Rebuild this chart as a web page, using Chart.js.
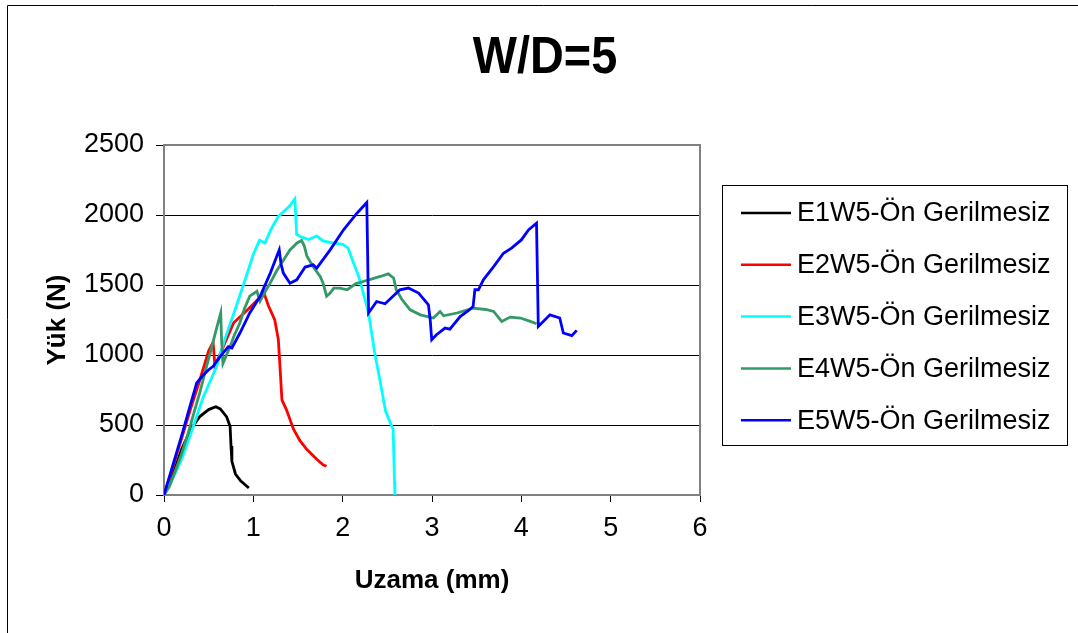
<!DOCTYPE html>
<html><head><meta charset="utf-8">
<script src="https://cdn.jsdelivr.net/npm/chart.js@4.4.1/dist/chart.umd.min.js"></script>
<style>html,body{margin:0;padding:0;background:#fff;}</style>
</head><body>
<canvas id="c" width="1078" height="633" style="display:block"></canvas>
<script>
const chartTitle = 'W/D=5';
const xTitle = 'Uzama (mm)';
const yTitle = 'Yük (N)';
const seriesNames = ['E1W5-Ön Gerilmesiz','E2W5-Ön Gerilmesiz','E3W5-Ön Gerilmesiz','E4W5-Ön Gerilmesiz','E5W5-Ön Gerilmesiz'];
const seriesColors = ['#000000','#FF0000','#00FFFF','#339966','#0000FF'];
const xTickValues = [0,1,2,3,4,5,6];
const yTickValues = [0,500,1000,1500,2000,2500];

// [Uzama (mm), Yük (N)]
const e1 = [[0,0],[0.1,150],[0.2,330],[0.3,470],[0.4,560],[0.5,610],[0.58,630],[0.63,615],[0.7,560],[0.74,490],[0.75,350],[0.76,240],[0.8,150],[0.86,100],[0.95,50]];
const e2 = [[0,0],[0.1,200],[0.2,410],[0.3,620],[0.4,820],[0.5,1030],[0.55,1090],[0.57,920],[0.65,1040],[0.78,1230],[0.93,1320],[1.04,1390],[1.12,1440],[1.17,1350],[1.24,1250],[1.28,1110],[1.3,900],[1.32,680],[1.37,610],[1.45,470],[1.52,390],[1.6,325],[1.71,255],[1.78,215],[1.82,205]];
const e3 = [[0,0],[0.1,120],[0.2,260],[0.29,420],[0.44,700],[0.59,920],[0.68,1110],[0.81,1350],[0.93,1580],[1.0,1720],[1.07,1820],[1.13,1800],[1.2,1900],[1.28,1990],[1.34,2025],[1.4,2060],[1.465,2115],[1.485,1860],[1.55,1840],[1.62,1825],[1.71,1850],[1.78,1815],[1.9,1800],[2.0,1790],[2.06,1765],[2.12,1660],[2.18,1560],[2.23,1445],[2.29,1300],[2.36,1010],[2.42,810],[2.48,600],[2.55,490],[2.565,470],[2.58,100],[2.585,0]];
const e4 = [[0,0],[0.06,60],[0.12,160],[0.2,300],[0.27,440],[0.35,620],[0.4,730],[0.46,880],[0.52,1020],[0.58,1170],[0.635,1300],[0.645,1100],[0.66,940],[0.7,1000],[0.74,1060],[0.78,1130],[0.85,1230],[0.9,1330],[0.96,1420],[1.04,1455],[1.075,1385],[1.13,1450],[1.19,1515],[1.26,1600],[1.34,1680],[1.41,1750],[1.49,1800],[1.54,1818],[1.57,1780],[1.6,1705],[1.67,1630],[1.75,1560],[1.78,1515],[1.82,1420],[1.86,1442],[1.9,1478],[1.97,1478],[2.05,1466],[2.15,1510],[2.23,1525],[2.31,1540],[2.42,1561],[2.51,1580],[2.57,1550],[2.6,1466],[2.66,1400],[2.755,1323],[2.87,1287],[3.016,1264],[3.09,1311],[3.13,1280],[3.28,1300],[3.46,1335],[3.6,1325],[3.69,1311],[3.78,1240],[3.875,1271],[3.99,1264],[4.1,1240],[4.17,1223]];
const e5 = [[0,0],[0.1,215],[0.2,430],[0.28,610],[0.366,800],[0.43,850],[0.5,895],[0.55,919],[0.63,990],[0.72,1060],[0.76,1050],[0.85,1157],[0.96,1300],[1.075,1418],[1.19,1585],[1.29,1751],[1.31,1650],[1.336,1585],[1.41,1513],[1.486,1537],[1.58,1628],[1.67,1644],[1.71,1620],[1.86,1751],[2.01,1894],[2.16,2013],[2.27,2089],[2.28,1700],[2.29,1300],[2.38,1382],[2.475,1366],[2.64,1466],[2.736,1478],[2.85,1442],[2.96,1359],[2.98,1250],[2.997,1109],[3.05,1145],[3.146,1192],[3.2,1185],[3.315,1275],[3.41,1318],[3.46,1347],[3.48,1466],[3.52,1466],[3.575,1537],[3.69,1632],[3.8,1727],[3.89,1763],[4.0,1822],[4.08,1894],[4.17,1941],[4.19,1204],[4.32,1287],[4.43,1264],[4.47,1157],[4.565,1138],[4.62,1176]];
const allSeries = [e1,e2,e3,e4,e5];

const FONT = "'Liberation Sans', Arial, sans-serif";

const framePlugin = {
  id:'frame',
  beforeDraw(chart){
    const ctx = chart.ctx;
    ctx.save();
    ctx.fillStyle='#fff'; ctx.fillRect(0,0,chart.width,chart.height);
    ctx.strokeStyle='#000'; ctx.lineWidth=1;
    ctx.beginPath(); ctx.moveTo(7.5,chart.height+2); ctx.lineTo(7.5,5.5); ctx.lineTo(chart.width+2,5.5); ctx.stroke();
    ctx.restore();
  },
  beforeDatasetsDraw(chart){
    const {ctx, chartArea:a} = chart;
    ctx.save();
    ctx.strokeStyle='#808080'; ctx.lineWidth=2;
    ctx.strokeRect(a.left, a.top, a.right-a.left, a.bottom-a.top);
    ctx.restore();
  },
  afterDraw(chart){
    const ctx = chart.ctx;
    ctx.save();
    ctx.fillStyle='#000';
    ctx.font = "bold 52px " + FONT;
    ctx.textAlign='center'; ctx.textBaseline='middle';
    ctx.save();
    ctx.translate(545, 59);
    ctx.scale(0.9, 1);
    ctx.fillText(chartTitle, 0, 0);
    ctx.restore();
    const bx=722.5, by=185.5, bw=345, bh=260;
    ctx.strokeStyle='#000'; ctx.lineWidth=1;
    ctx.strokeRect(bx,by,bw,bh);
    ctx.font = "27px " + FONT;
    ctx.textAlign='left';
    chart.data.datasets.forEach((ds,i)=>{
      const y = 213 + i*51.8;
      ctx.strokeStyle = ds.borderColor; ctx.lineWidth = 2.5;
      ctx.beginPath(); ctx.moveTo(741,y); ctx.lineTo(791,y); ctx.stroke();
      ctx.fillStyle='#000';
      ctx.fillText(ds.label, 797, y+1);
    });
    ctx.restore();
  }
};

new Chart(document.getElementById('c'), {
  type:'line',
  data:{
    datasets: allSeries.map((s,i)=>({
      label: seriesNames[i],
      data: s.map(p=>({x:p[0], y:p[1]})),
      borderColor: seriesColors[i],
      borderWidth: 2.8,
      pointRadius: 0,
      fill:false,
      tension:0,
      order: allSeries.length - i
    }))
  },
  options:{
    responsive:false,
    animation:false,
    layout:{padding:{left:30, top:145, right:378, bottom:10}},
    plugins:{legend:{display:false}, title:{display:false}, tooltip:{enabled:false}},
    scales:{
      x:{
        type:'linear', min:0, max:6,
        afterBuildTicks(s){ s.ticks = xTickValues.map(v=>({value:v})); },
        ticks:{color:'#000', font:{size:27, family:FONT}, padding:10, maxRotation:0, callback:v=>String(v)},
        grid:{drawOnChartArea:false, drawTicks:true, tickLength:7, tickColor:'#000', tickWidth:1},
        border:{display:true, color:'#808080', width:2},
        title:{display:true, text:xTitle, color:'#000', font:{size:26, weight:'bold', family:FONT}, padding:{top:0, bottom:27}},
        afterFit(s){ s.height = 128; }
      },
      y:{
        type:'linear', min:0, max:2500,
        afterBuildTicks(s){ s.ticks = yTickValues.map(v=>({value:v})); },
        ticks:{color:'#000', font:{size:27, family:FONT}, padding:12, callback:v=>String(v)},
        grid:{color:'#000', lineWidth:1, drawTicks:true, tickLength:8, tickColor:'#000'},
        border:{display:true, color:'#808080', width:2},
        title:{display:true, text:yTitle, color:'#000', font:{size:26, weight:'bold', family:FONT}, padding:{top:12, bottom:0}},
        afterFit(s){ s.width = 134; }
      }
    }
  },
  plugins:[framePlugin]
});
</script>
</body></html>
